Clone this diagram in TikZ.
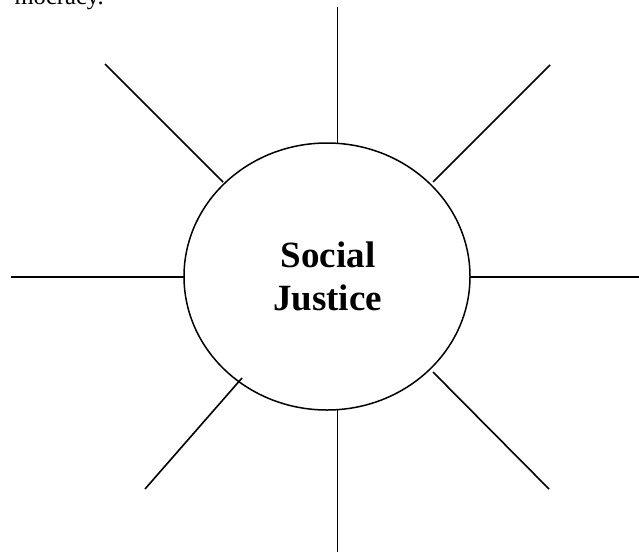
\documentclass[tikz,border=0pt]{standalone}
\usepackage{fontspec}
\setmainfont{Liberation Serif}
\usetikzlibrary{shapes.geometric}
\tikzset{
  ray/.style={line width=1.6pt, black},
  hub/.style={draw, ellipse, line width=1.5pt, inner sep=0pt, minimum width=286pt, minimum height=267pt},
  titletext/.style={font=\fontsize{37}{43}\selectfont\bfseries, align=center, inner sep=0pt}
}
\begin{document}
\begin{tikzpicture}[x=1pt,y=-1pt]
\useasboundingbox (0,0) rectangle (639,552);
\node[anchor=base east, inner sep=0pt, font=\fontsize{24.6}{28}\selectfont] (head) at (104,4.3) {mocracy.};
\node[hub] (c) at (327,276.5) {};
\node[titletext, anchor=base] (t1) at (328,267) {Social};
\node[titletext, anchor=base] (t2) at (327.5,310) {Justice};
% ray end points
\coordinate (n1) at (337.5,7);    \coordinate (n2) at (337.5,143.5);
\coordinate (s1) at (337.5,409);  \coordinate (s2) at (337.5,552);
\coordinate (w1) at (10.7,276.7); \coordinate (w2) at (184,276.7);
\coordinate (e1) at (470,276.7);  \coordinate (e2) at (640,276.7);
\coordinate (nw1) at (105,64);    \coordinate (nw2) at (223,182);
\coordinate (ne1) at (550,65);    \coordinate (ne2) at (433,182);
\coordinate (sw1) at (145,489);   \coordinate (sw2) at (242,378);
\coordinate (se1) at (433,372);   \coordinate (se2) at (549,489);
\draw[ray] (n1) -- (n2);
\draw[ray] (s1) -- (s2);
\draw[ray] (w1) -- (w2);
\draw[ray] (e1) -- (e2);
\draw[ray] (nw1) -- (nw2);
\draw[ray] (ne1) -- (ne2);
\draw[ray] (sw1) -- (sw2);
\draw[ray] (se1) -- (se2);
\end{tikzpicture}
\end{document}
